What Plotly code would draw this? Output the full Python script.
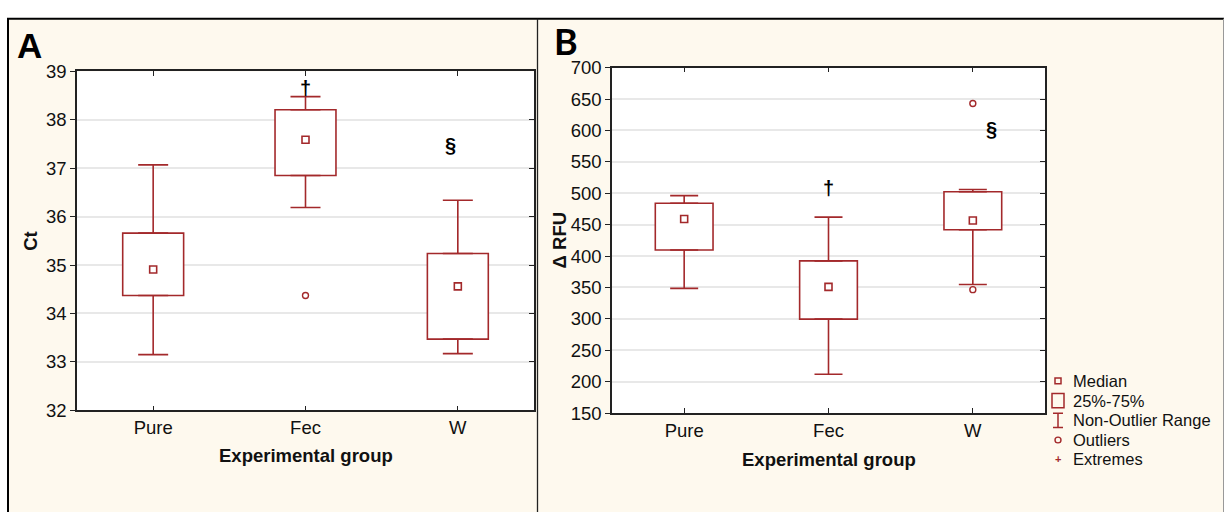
import plotly.graph_objects as go

# ---------------- data ----------------
groups = ["Pure", "Fec", "W"]

ct_lower = [33.15, 36.19, 33.17]
ct_q1 = [34.37, 36.85, 33.47]
ct_median = [34.91, 37.59, 34.56]
ct_q3 = [35.66, 38.21, 35.24]
ct_upper = [37.07, 38.48, 36.34]
ct_out_x = ["Fec"]
ct_out_y = [34.37]

rfu_lower = [348.6, 212.0, 354.7]
rfu_q1 = [409.7, 299.7, 442.0]
rfu_median = [459.0, 351.0, 456.6]
rfu_q3 = [484.0, 392.4, 502.4]
rfu_upper = [496.3, 462.0, 506.0]
rfu_out_x = ["W", "W"]
rfu_out_y = [643.0, 346.6]

legend_labels = ["Median", "25%-75%", "Non-Outlier Range", "Outliers", "Extremes"]

# ---------------- style ----------------
W, H = 1225, 522
RED = "#a3292b"
CREAM = "#fef9ee"
FONT = "Liberation Sans, Arial, sans-serif"
TXT = "#111111"


def px_x(p):
    return p / W


def px_y(p):
    return 1 - p / H


fig = go.Figure()


def add_panel(xa, ya, lower, q1, med, q3, upper, out_x, out_y, cap):
    idx = list(range(len(groups)))
    ox = [groups.index(g) for g in out_x]
    # boxes (25%-75%)
    fig.add_trace(go.Bar(
        x=idx, y=[b - a for a, b in zip(q1, q3)], base=q1, width=0.4,
        marker=dict(color="white", line=dict(color=RED, width=1.6)),
        xaxis=xa, yaxis=ya, showlegend=False, hoverinfo="skip"))
    # upper whiskers
    fig.add_trace(go.Scatter(
        x=idx, y=q3, mode="markers", marker=dict(size=1, opacity=0),
        error_y=dict(type="data", symmetric=False,
                     array=[u - b for u, b in zip(upper, q3)],
                     arrayminus=[0] * len(idx), color=RED, thickness=1.6, width=cap),
        xaxis=xa, yaxis=ya, showlegend=False, hoverinfo="skip"))
    # lower whiskers
    fig.add_trace(go.Scatter(
        x=idx, y=q1, mode="markers", marker=dict(size=1, opacity=0),
        error_y=dict(type="data", symmetric=False,
                     array=[0] * len(idx),
                     arrayminus=[a - l for a, l in zip(q1, lower)],
                     color=RED, thickness=1.6, width=cap),
        xaxis=xa, yaxis=ya, showlegend=False, hoverinfo="skip"))
    # medians
    fig.add_trace(go.Scatter(
        x=idx, y=med, mode="markers",
        marker=dict(symbol="square-open", size=7, color=RED, line=dict(width=1.6, color=RED)),
        xaxis=xa, yaxis=ya, showlegend=False, hoverinfo="skip"))
    # outliers
    fig.add_trace(go.Scatter(
        x=ox, y=out_y, mode="markers",
        marker=dict(symbol="circle-open", size=6, color=RED, line=dict(width=1.4, color=RED)),
        xaxis=xa, yaxis=ya, showlegend=False, hoverinfo="skip"))


add_panel("x", "y", ct_lower, ct_q1, ct_median, ct_q3, ct_upper, ct_out_x, ct_out_y, 15)
add_panel("x2", "y2", rfu_lower, rfu_q1, rfu_median, rfu_q3, rfu_upper, rfu_out_x, rfu_out_y, 14)
# dummy traces for the mirrored (right-hand) tick axes
fig.add_trace(go.Scatter(x=[None], y=[None], xaxis="x", yaxis="y3", showlegend=False))
fig.add_trace(go.Scatter(x=[None], y=[None], xaxis="x2", yaxis="y4", showlegend=False))

A_dom_x = [px_x(77), px_x(534)]
A_dom_y = [px_y(416), px_y(63)]
B_dom_x = [px_x(612), px_x(1045)]
B_dom_y = [px_y(419), px_y(59)]

tickfont = dict(family=FONT, size=18.5, color=TXT)

xcommon = dict(range=[-0.5, 2.5], tickvals=[0, 1, 2], ticktext=groups, ticks="inside",
               ticklen=5, tickcolor="#222", showline=True, linecolor="#222", linewidth=1.5,
               mirror="ticks", showgrid=False, zeroline=False, tickfont=tickfont,
               fixedrange=True)
ycommon = dict(ticks="outside", ticklen=5, tickcolor="#222", showline=True, linecolor="#222",
               linewidth=1.5, mirror=True, showgrid=True, gridcolor="#e8e8e8", gridwidth=1.5,
               zeroline=False, tickfont=tickfont, fixedrange=True)
yright = dict(ticks="inside", ticklen=5, tickcolor="#222", showline=False, showgrid=False,
              zeroline=False, showticklabels=False, side="right", fixedrange=True)

fig.update_layout(
    width=W, height=H, autosize=False,
    margin=dict(l=0, r=0, t=0, b=0),
    paper_bgcolor="white", plot_bgcolor="rgba(0,0,0,0)",
    showlegend=False, barmode="overlay",
    xaxis=dict(domain=A_dom_x, anchor="y", **xcommon),
    yaxis=dict(domain=A_dom_y, anchor="x", range=[32, 39], dtick=1, **ycommon),
    yaxis3=dict(overlaying="y", anchor="x", range=[32, 39], dtick=1, **yright),
    xaxis2=dict(domain=B_dom_x, anchor="y2", **xcommon),
    yaxis2=dict(domain=B_dom_y, anchor="x2", range=[150, 700], dtick=50, **ycommon),
    yaxis4=dict(overlaying="y2", anchor="x2", range=[150, 700], dtick=50, **yright),
)

shapes = []
# panel backgrounds
shapes.append(dict(type="rect", xref="paper", yref="paper", x0=px_x(8), x1=px_x(537),
                   y0=0, y1=px_y(8), fillcolor=CREAM, line=dict(width=0), layer="below"))
shapes.append(dict(type="rect", xref="paper", yref="paper", x0=px_x(537), x1=px_x(1223),
                   y0=0, y1=px_y(8), fillcolor=CREAM, line=dict(width=0), layer="below"))
# plot area white backgrounds
for xa, ya in (("x", "y"), ("x2", "y2")):
    shapes.append(dict(type="rect", xref=xa + " domain", yref=ya + " domain", x0=0, x1=1,
                       y0=0, y1=1, fillcolor="white", line=dict(width=0), layer="below"))
# frame lines
shapes.append(dict(type="line", xref="paper", yref="paper", x0=px_x(7), x1=px_x(1224),
                   y0=px_y(8), y1=px_y(8), line=dict(color="#000", width=2)))
shapes.append(dict(type="line", xref="paper", yref="paper", x0=px_x(8), x1=px_x(8),
                   y0=0, y1=px_y(8), line=dict(color="#000", width=2)))
shapes.append(dict(type="line", xref="paper", yref="paper", x0=px_x(537.5), x1=px_x(537.5),
                   y0=0, y1=px_y(8), line=dict(color="#222", width=1.3)))
shapes.append(dict(type="line", xref="paper", yref="paper", x0=px_x(1223.5), x1=px_x(1223.5),
                   y0=0, y1=px_y(8), line=dict(color="#999", width=1)))

# ---------------- legend (panel B) ----------------
leg_sym_x = 1058
leg_txt_x = 1071
leg_rows = [385.5, 406, 426.5, 447, 467]
annotations = []
for lab, ry in zip(legend_labels, leg_rows):
    annotations.append(dict(xref="paper", yref="paper", x=px_x(leg_txt_x), y=px_y(ry),
                            text=lab, showarrow=False, xanchor="left", yanchor="middle",
                            font=dict(family=FONT, size=16.5, color=TXT)))
# median glyph
r = leg_rows[0]
shapes.append(dict(type="rect", xref="paper", yref="paper",
                   x0=px_x(leg_sym_x - 3), x1=px_x(leg_sym_x + 3),
                   y0=px_y(r + 3), y1=px_y(r - 3), line=dict(color=RED, width=1.5)))
# box glyph
r = leg_rows[1]
shapes.append(dict(type="rect", xref="paper", yref="paper",
                   x0=px_x(leg_sym_x - 6), x1=px_x(leg_sym_x + 6),
                   y0=px_y(r + 7.5), y1=px_y(r - 7.5), line=dict(color=RED, width=1.5)))
# whisker glyph
r = leg_rows[2]
shapes.append(dict(type="path", xref="paper", yref="paper",
                   path=(f"M {px_x(leg_sym_x - 5)},{px_y(r - 7.5)} L {px_x(leg_sym_x + 5)},{px_y(r - 7.5)} "
                         f"M {px_x(leg_sym_x)},{px_y(r - 7.5)} L {px_x(leg_sym_x)},{px_y(r + 7.5)} "
                         f"M {px_x(leg_sym_x - 5)},{px_y(r + 7.5)} L {px_x(leg_sym_x + 5)},{px_y(r + 7.5)}"),
                   line=dict(color=RED, width=1.5)))
# outlier glyph
r = leg_rows[3]
shapes.append(dict(type="circle", xref="paper", yref="paper",
                   x0=px_x(leg_sym_x - 3), x1=px_x(leg_sym_x + 3),
                   y0=px_y(r + 3), y1=px_y(r - 3), line=dict(color=RED, width=1.4)))
# extremes glyph
r = leg_rows[4]
annotations.append(dict(xref="paper", yref="paper", x=px_x(leg_sym_x), y=px_y(r),
                        text="<b>+</b>", showarrow=False, xanchor="center", yanchor="middle",
                        font=dict(family=FONT, size=11, color=RED)))

# ---------------- texts ----------------
annotations += [
    dict(xref="paper", yref="paper", x=px_x(29), y=px_y(36), text="<b>A</b>", showarrow=False,
         xanchor="center", yanchor="middle", font=dict(family=FONT, size=35, color="#000")),
    dict(xref="paper", yref="paper", x=px_x(566), y=px_y(31), text="<b>B</b>", showarrow=False,
         xanchor="center", yanchor="middle", font=dict(family="Lato, " + FONT, size=36, color="#000")),
    dict(xref="paper", yref="paper", x=px_x(31), y=px_y(239.5), text="<b>Ct</b>", showarrow=False,
         textangle=-90, xanchor="center", yanchor="middle", font=dict(family=FONT, size=18.5, color=TXT)),
    dict(xref="paper", yref="paper", x=px_x(559), y=px_y(239), text="<b>Δ RFU</b>", showarrow=False,
         textangle=-90, xanchor="center", yanchor="middle", font=dict(family=FONT, size=18.5, color=TXT)),
    dict(xref="x domain", yref="paper", x=0.5, y=px_y(463.5), text="<b>Experimental group</b>",
         showarrow=False, xanchor="center", yanchor="middle", font=dict(family=FONT, size=18.5, color=TXT)),
    dict(xref="x2 domain", yref="paper", x=0.5, y=px_y(467.5), text="<b>Experimental group</b>",
         showarrow=False, xanchor="center", yanchor="middle", font=dict(family=FONT, size=18.5, color=TXT)),
    # significance marks
    dict(xref="x", yref="y", x=1, y=38.66, text="<b>†</b>", showarrow=False,
         xanchor="center", yanchor="middle", font=dict(family=FONT, size=20, color="#000")),
    dict(xref="x", yref="y", x=1.95, y=37.48, text="<b>§</b>", showarrow=False,
         xanchor="center", yanchor="middle", font=dict(family=FONT, size=20, color="#000")),
    dict(xref="x2", yref="y2", x=1, y=508, text="<b>†</b>", showarrow=False,
         xanchor="center", yanchor="middle", font=dict(family=FONT, size=20, color="#000")),
    dict(xref="x2", yref="y2", x=2.13, y=602, text="<b>§</b>", showarrow=False,
         xanchor="center", yanchor="middle", font=dict(family=FONT, size=20, color="#000")),
]

fig.update_layout(shapes=shapes, annotations=annotations)
fig.write_html(
    "out.html",
    config={"displayModeBar": False},
    post_script="document.body.style.margin='0';document.body.style.overflow='hidden';",
)
